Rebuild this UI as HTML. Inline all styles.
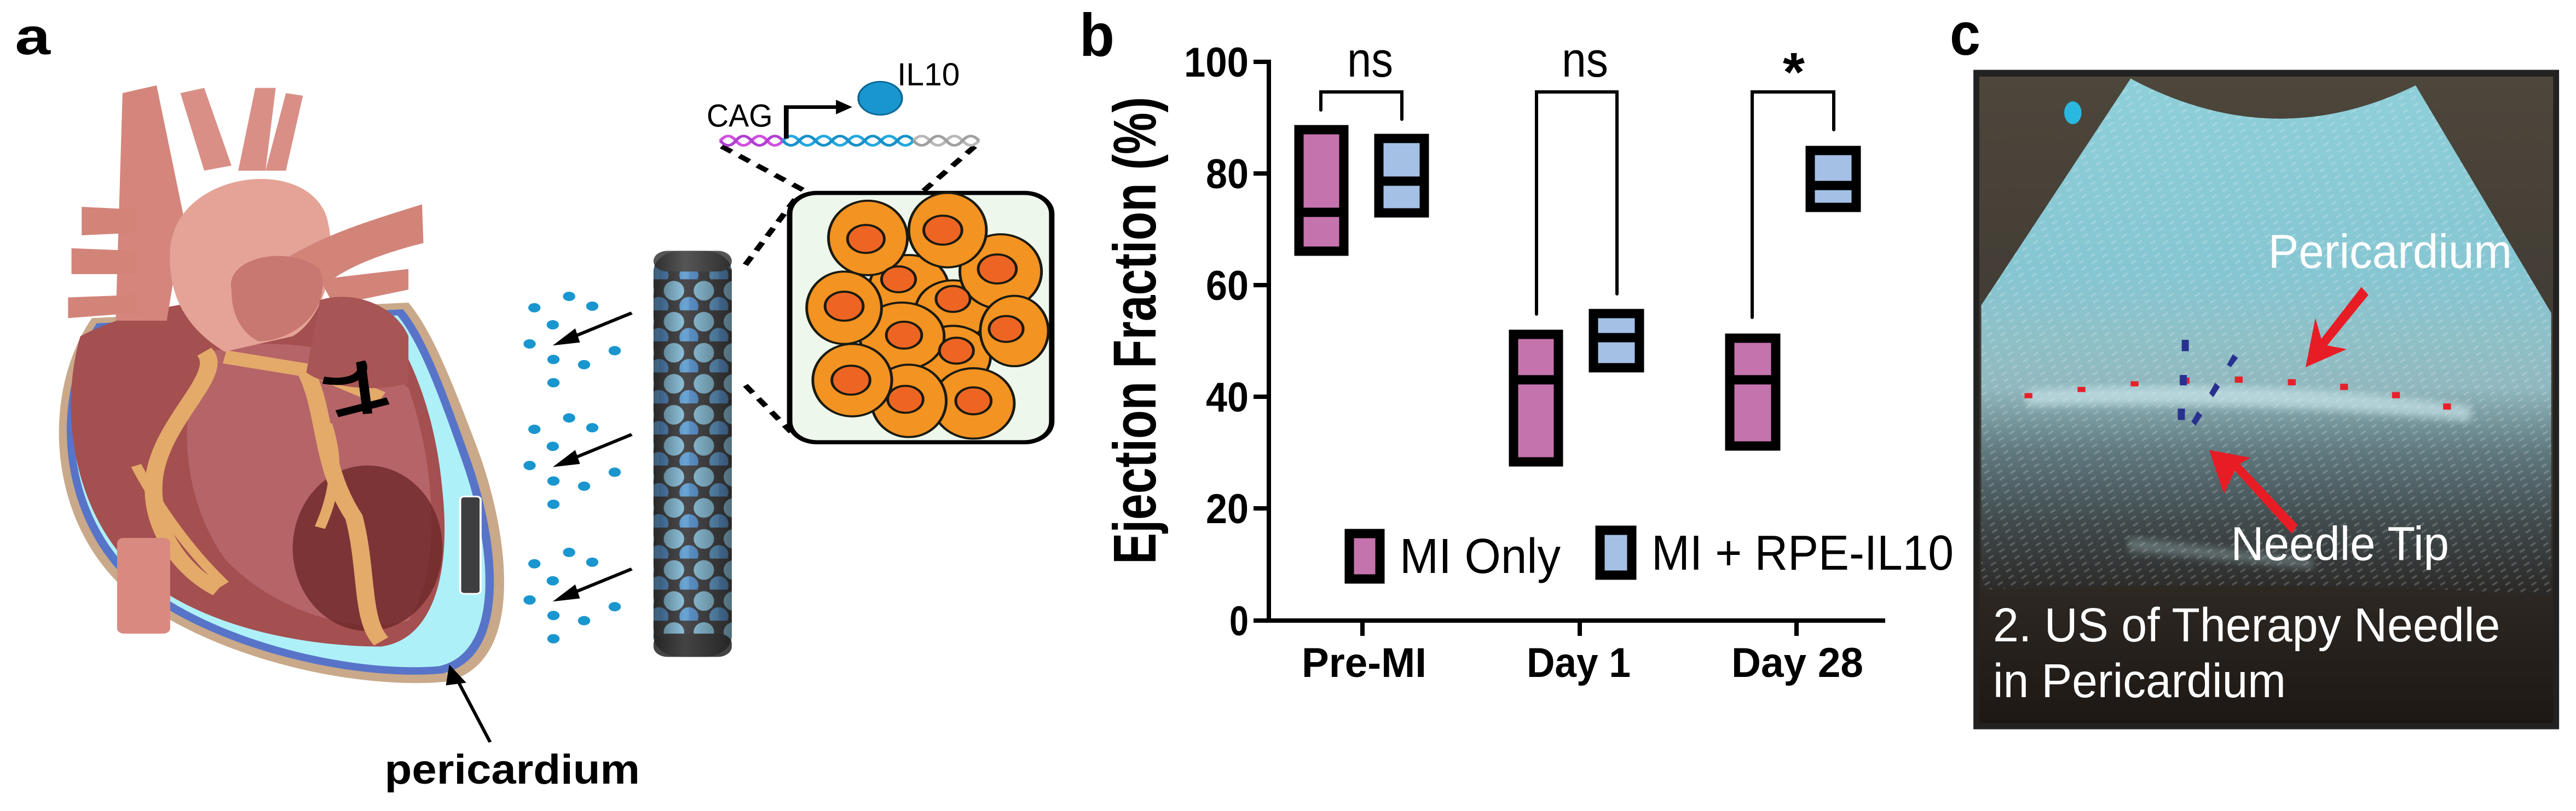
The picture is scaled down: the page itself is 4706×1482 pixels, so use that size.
<!DOCTYPE html>
<html><head><meta charset="utf-8"><style>
html,body{margin:0;padding:0;background:#fff;}
body{width:4706px;height:1482px;position:relative;overflow:hidden;font-family:"Liberation Sans",Arial,sans-serif;}
svg{position:absolute;}
</style></head><body>

<!-- Panel a -->
<svg style="left:0;top:0" width="1950" height="1482" viewBox="0 0 1568 1568" preserveAspectRatio="none">
<defs>
<pattern id="hex" width="44" height="60" patternUnits="userSpaceOnUse">
<rect width="44" height="60" fill="#4a4a4c"/>
<ellipse cx="22" cy="22" rx="15" ry="19" fill="#8fc3dc"/>
<ellipse cx="0" cy="52" rx="14" ry="18" fill="#5e95cc"/>
<ellipse cx="44" cy="52" rx="14" ry="18" fill="#6aa5d4"/>
</pattern>
<linearGradient id="cyl" x1="0" x2="1"><stop offset="0" stop-color="#000" stop-opacity=".45"/><stop offset=".4" stop-color="#000" stop-opacity="0"/><stop offset="1" stop-color="#000" stop-opacity=".45"/></linearGradient>
</defs>
<text x="22" y="105" font-size="100" font-weight="bold" textLength="52" lengthAdjust="spacingAndGlyphs">a</text>
<path d="M135,615 C60,760 70,1000 180,1135 C300,1270 520,1335 655,1318 C770,1285 750,1050 705,880 C665,740 635,640 600,585 Z" fill="#c9a98a"/>
<path d="M142,625 C72,765 84,995 190,1125 C305,1255 520,1318 650,1302 C752,1272 735,1050 690,885 C652,745 625,650 592,598 Z" fill="#5874c8"/>
<path d="M150,632 C84,770 96,990 200,1115 C312,1242 522,1302 645,1288 C738,1260 722,1050 678,888 C642,752 615,660 584,610 Z" fill="#aef0f8"/>
<path d="M118,650 C85,800 110,1000 205,1110 C300,1215 450,1250 560,1250 C640,1235 662,1100 650,950 C640,800 605,690 565,615 C450,560 250,560 118,650 Z" fill="#a44f50"/>
<path d="M310,680 C260,760 260,950 330,1080 C400,1180 520,1230 600,1200 C650,1100 640,900 600,750 C520,660 380,650 310,680 Z" fill="#b56468"/>
<ellipse cx="540" cy="1060" rx="110" ry="160" fill="#6a2426" opacity=".75"/>
<path d="M300,680 C330,720 250,800 230,900 C210,1000 260,1100 320,1140 M450,720 C480,800 470,900 520,1000 C540,1100 530,1200 560,1240 M330,690 L470,720 L560,770" stroke="#e3aa6a" stroke-width="26" fill="none" stroke-linejoin="round"/>
<path d="M200,900 C240,1000 290,1080 330,1130 M480,820 C500,900 490,960 470,1020" stroke="#e3aa6a" stroke-width="16" fill="none"/>
<rect x="172" y="1040" width="78" height="185" rx="10" fill="#d98a80"/>
<path d="M180,180 L230,165 L270,420 L245,620 L170,620 Z" fill="#d4857c"/>
<path d="M265,180 L300,170 L340,320 L300,330 Z" fill="#d98f86"/>
<path d="M375,170 L405,170 L390,330 L350,330 Z" fill="#d98f86"/>
<path d="M420,180 L445,185 L420,330 L390,330 Z" fill="#d98f86"/>
<path d="M250,480 C260,330 450,300 480,420 C500,520 470,620 430,650 L330,680 C280,640 245,580 250,480 Z" fill="#e4a396"/>
<path d="M120,400 L200,405 L200,450 L120,455 Z M105,480 L200,485 L200,530 L105,530 Z M100,575 L200,570 L200,605 L100,615 Z" fill="#d28479"/>
<path d="M420,500 C480,450 560,420 620,395 L622,470 C560,490 500,520 470,560 Z M470,540 L600,520 L600,560 L490,590 Z" fill="#d28479"/>
<path d="M340,560 C330,500 420,470 470,520 C490,600 430,660 380,660 C350,640 340,600 340,560 Z" fill="#c87870"/>
<path d="M470,580 C520,560 580,590 600,650 L600,740 C560,760 480,750 450,720 Z" fill="#a85555"/>
<path d="M475,735 C520,745 540,720 530,700 L540,800 M495,800 L570,775" stroke="#000" stroke-width="14" fill="none"/>
<rect x="676" y="960" width="30" height="188" rx="6" fill="#3e3e40" stroke="#fff" stroke-width="3"/>
<line x1="720" y1="1435" x2="670" y2="1310" stroke="#000" stroke-width="5"/>
<path d="M660,1285 L685,1320 L655,1325 Z" fill="#000"/>
<text x="565" y="1515" font-size="80" font-weight="bold" textLength="375" lengthAdjust="spacingAndGlyphs">pericardium</text>
<g fill="#1a96cf">
<circle cx="785" cy="595" r="9"/><circle cx="836" cy="573" r="9"/><circle cx="870" cy="592" r="9"/><circle cx="812" cy="628" r="9"/><circle cx="778" cy="665" r="9"/><circle cx="813" cy="695" r="9"/><circle cx="858" cy="705" r="9"/><circle cx="903" cy="678" r="9"/><circle cx="813" cy="740" r="9"/>
<circle cx="785" cy="830" r="9"/><circle cx="836" cy="808" r="9"/><circle cx="870" cy="827" r="9"/><circle cx="812" cy="863" r="9"/><circle cx="778" cy="900" r="9"/><circle cx="813" cy="930" r="9"/><circle cx="858" cy="940" r="9"/><circle cx="903" cy="913" r="9"/><circle cx="813" cy="975" r="9"/>
<circle cx="785" cy="1090" r="9"/><circle cx="836" cy="1068" r="9"/><circle cx="870" cy="1087" r="9"/><circle cx="812" cy="1123" r="9"/><circle cx="778" cy="1160" r="9"/><circle cx="813" cy="1190" r="9"/><circle cx="858" cy="1200" r="9"/><circle cx="903" cy="1173" r="9"/><circle cx="813" cy="1235" r="9"/>
</g>
<g stroke="#000" stroke-width="6"><line x1="928" y1="605" x2="835" y2="655"/><line x1="928" y1="840" x2="835" y2="890"/><line x1="928" y1="1100" x2="835" y2="1150"/></g>
<g fill="#000"><path d="M812,668 L845,635 L852,662 Z"/><path d="M812,903 L845,870 L852,897 Z"/><path d="M812,1163 L845,1130 L852,1157 Z"/></g>
<rect x="960" y="485" width="115" height="785" rx="40" fill="url(#hex)"/>
<rect x="960" y="485" width="115" height="40" rx="20" fill="#555"/>
<rect x="960" y="1225" width="115" height="45" rx="20" fill="#444"/>
<rect x="960" y="485" width="115" height="785" rx="40" fill="url(#cyl)"/>
<g stroke="#000" stroke-width="9" stroke-dasharray="18,14" fill="none">
<line x1="1060" y1="283" x2="1290" y2="445"/><line x1="1432" y1="283" x2="1290" y2="445"/>
<line x1="1095" y1="512" x2="1170" y2="382"/><line x1="1095" y1="745" x2="1162" y2="835"/>
</g>
<rect x="1160" y="373" width="385" height="482" rx="40" fill="#eef7ec" stroke="#000" stroke-width="8"/>
<g stroke="#1a1a10" stroke-width="4">
<g fill="#f39322">
<ellipse cx="1335" cy="555" rx="58" ry="62"/><ellipse cx="1400" cy="600" rx="55" ry="58"/><ellipse cx="1400" cy="690" rx="55" ry="60"/><ellipse cx="1325" cy="650" rx="62" ry="65"/>
<ellipse cx="1470" cy="525" rx="60" ry="72"/><ellipse cx="1490" cy="640" rx="50" ry="68"/><ellipse cx="1430" cy="780" rx="60" ry="68"/><ellipse cx="1335" cy="775" rx="55" ry="70"/>
<ellipse cx="1275" cy="460" rx="58" ry="72"/><ellipse cx="1392" cy="445" rx="57" ry="72"/><ellipse cx="1240" cy="595" rx="55" ry="70"/><ellipse cx="1252" cy="735" rx="58" ry="70"/>
</g>
<g fill="#ee6523">
<circle cx="1320" cy="540" r="25"/><circle cx="1400" cy="578" r="25"/><circle cx="1405" cy="678" r="25"/><circle cx="1328" cy="648" r="26"/>
<circle cx="1465" cy="520" r="28"/><circle cx="1478" cy="636" r="25"/><circle cx="1430" cy="775" r="26"/><circle cx="1330" cy="772" r="26"/>
<circle cx="1272" cy="462" r="27"/><circle cx="1385" cy="445" r="28"/><circle cx="1240" cy="592" r="28"/><circle cx="1250" cy="735" r="28"/>
</g></g>
<g fill="none" stroke-width="5">
<path d="M1058,272 q12,-18 23,0 t23,0 t23,0 t23,0" stroke="#d050e0"/><path d="M1058,272 q12,18 23,0 t23,0 t23,0 t23,0" stroke="#b040d0"/>
<path d="M1150,272 q12,-18 24,0 t24,0 t24,0 t24,0 t24,0 t24,0 t24,0 t24,0" stroke="#22a8e0"/><path d="M1150,272 q12,18 24,0 t24,0 t24,0 t24,0 t24,0 t24,0 t24,0 t24,0" stroke="#1890c8"/>
<path d="M1342,272 q12,-18 24,0 t24,0 t24,0 t24,0" stroke="#b8b8b8"/><path d="M1342,272 q12,18 24,0 t24,0 t24,0 t24,0" stroke="#a0a0a0"/>
</g>
<path d="M1155,268 V207 H1232" stroke="#000" stroke-width="7" fill="none"/>
<path d="M1228,193 L1252,207 L1228,221 Z" fill="#000"/>
<text x="1038" y="245" font-size="62" textLength="97" lengthAdjust="spacingAndGlyphs">CAG</text>
<circle cx="1293" cy="190" r="32" fill="#1a96cf" stroke="#0c6898" stroke-width="3"/>
<text x="1318" y="165" font-size="62" textLength="92" lengthAdjust="spacingAndGlyphs">IL10</text>
</svg>

<!-- Panel b -->
<svg style="left:0;top:0" width="4706" height="1482" viewBox="0 0 4706 1482">
<g font-family="Liberation Sans, Arial, sans-serif">
<text x="1972" y="102" font-size="110" font-weight="bold" textLength="64" lengthAdjust="spacingAndGlyphs">b</text>
<line x1="2318" y1="109" x2="2318" y2="1138" stroke="#000" stroke-width="8"/>
<line x1="2314" y1="1134" x2="3444" y2="1134" stroke="#000" stroke-width="8"/>
<g stroke="#000" stroke-width="8">
<line x1="2290" y1="113" x2="2318" y2="113"/><line x1="2290" y1="317" x2="2318" y2="317"/><line x1="2290" y1="521" x2="2318" y2="521"/><line x1="2290" y1="725" x2="2318" y2="725"/><line x1="2290" y1="929" x2="2318" y2="929"/><line x1="2290" y1="1134" x2="2318" y2="1134"/>
<line x1="2489" y1="1134" x2="2489" y2="1162"/><line x1="2886" y1="1134" x2="2886" y2="1162"/><line x1="3282" y1="1134" x2="3282" y2="1162"/>
</g>
<g font-size="76" font-weight="bold" text-anchor="end">
<text x="2281" y="140" textLength="118" lengthAdjust="spacingAndGlyphs">100</text>
<text x="2281" y="344" textLength="78" lengthAdjust="spacingAndGlyphs">80</text>
<text x="2281" y="548" textLength="78" lengthAdjust="spacingAndGlyphs">60</text>
<text x="2281" y="752" textLength="78" lengthAdjust="spacingAndGlyphs">40</text>
<text x="2281" y="956" textLength="78" lengthAdjust="spacingAndGlyphs">20</text>
<text x="2281" y="1161" textLength="35" lengthAdjust="spacingAndGlyphs">0</text>
</g>
<g font-size="76" font-weight="bold">
<text x="2378" y="1237" textLength="228" lengthAdjust="spacingAndGlyphs">Pre-MI</text>
<text x="2789" y="1237" textLength="190" lengthAdjust="spacingAndGlyphs">Day 1</text>
<text x="3163" y="1237" textLength="241" lengthAdjust="spacingAndGlyphs">Day 28</text>
</g>
<text transform="translate(2111,1031) rotate(-90)" font-size="110" font-weight="bold" textLength="854" lengthAdjust="spacingAndGlyphs">Ejection Fraction (%)</text>
<g stroke="#000" stroke-width="17">
<rect x="2373" y="237" width="82" height="222" fill="#c573ad"/>
<rect x="2519" y="253" width="83" height="136" fill="#a4c0e5"/>
<rect x="2765" y="611" width="82" height="233" fill="#c573ad"/>
<rect x="2911" y="573" width="84" height="99" fill="#a4c0e5"/>
<rect x="3160" y="618" width="84" height="197" fill="#c573ad"/>
<rect x="3307" y="275" width="84" height="104" fill="#a4c0e5"/>
<line x1="2373" y1="388" x2="2455" y2="388"/>
<line x1="2519" y1="331" x2="2602" y2="331"/>
<line x1="2765" y1="694" x2="2847" y2="694"/>
<line x1="2911" y1="617" x2="2995" y2="617"/>
<line x1="3160" y1="694" x2="3244" y2="694"/>
<line x1="3307" y1="339" x2="3391" y2="339"/>
</g>
<g stroke="#000" stroke-width="6" fill="none" stroke-linecap="round">
<path d="M2413,201 V168 H2561 V218"/>
<path d="M2807,574 V168 H2954 V537"/>
<path d="M3201,580 V168 H3350 V237"/>
</g>
<g font-size="90">
<text x="2461" y="140" textLength="84" lengthAdjust="spacingAndGlyphs">ns</text>
<text x="2853" y="140" textLength="85" lengthAdjust="spacingAndGlyphs">ns</text>
</g>
<text x="3257" y="166" font-size="100" font-weight="bold" textLength="40" lengthAdjust="spacingAndGlyphs">*</text>
<rect x="2465" y="975" width="56" height="83" fill="#c573ad" stroke="#000" stroke-width="17"/>
<rect x="2923" y="969" width="58" height="82" fill="#a4c0e5" stroke="#000" stroke-width="17"/>
<text x="2557" y="1047" font-size="90" textLength="294" lengthAdjust="spacingAndGlyphs">MI Only</text>
<text x="3017" y="1041" font-size="90" textLength="552" lengthAdjust="spacingAndGlyphs">MI + RPE-IL10</text>
<text x="3562" y="100" font-size="110" font-weight="bold" textLength="56" lengthAdjust="spacingAndGlyphs">c</text>
</g>
</svg>

<!-- Panel c -->
<svg style="left:3580px;top:0" width="1126" height="1482" viewBox="0 0 1568 1568" preserveAspectRatio="none">
<defs>
<linearGradient id="bg" x1="0" y1="0" x2="0" y2="1"><stop offset="0" stop-color="#4d463b"/><stop offset=".6" stop-color="#3a3630"/><stop offset="1" stop-color="#1e1814"/></linearGradient>
<linearGradient id="fan" x1="0" y1="0" x2="0" y2="1">
<stop offset="0" stop-color="#8fcfd9"/><stop offset=".38" stop-color="#86c6d2"/><stop offset=".5" stop-color="#8fc0c8"/><stop offset=".6" stop-color="#90b8be"/><stop offset=".72" stop-color="#607a80"/><stop offset=".86" stop-color="#404a4c"/><stop offset="1" stop-color="#2a2826"/></linearGradient>
<pattern id="tex" width="30" height="14" patternUnits="userSpaceOnUse" patternTransform="rotate(-25)"><rect width="14" height="4" fill="#fff" opacity=".18"/></pattern>
<filter id="bl"><feGaussianBlur stdDeviation="8"/></filter>
</defs>
<rect x="35" y="135" width="1490" height="1275" fill="#222"/>
<rect x="50" y="148" width="1460" height="1250" fill="url(#bg)"/>
<path d="M435,152 Q800,300 1160,165 L1505,605 L1505,1150 Q800,1120 55,1140 L55,590 Z" fill="url(#fan)"/>
<path d="M435,152 Q800,300 1160,165 L1505,605 L1505,1150 Q800,1120 55,1140 L55,590 Z" fill="url(#tex)"/>
<path d="M170,755 Q800,730 1300,785 L1300,815 Q800,775 170,785 Z" fill="#d8f2f6" opacity=".55" filter="url(#bl)"/>
<path d="M430,1040 Q650,1060 900,1080 L900,1100 Q650,1080 430,1065 Z" fill="#c8e8ee" opacity=".3" filter="url(#bl)"/>
<circle cx="288" cy="218" r="22" fill="#2ab8e0"/>
<g fill="#e8202a">
<rect x="165" y="760" width="20" height="10"/><rect x="300" y="748" width="20" height="10"/><rect x="435" y="737" width="20" height="10"/><rect x="565" y="730" width="20" height="12"/><rect x="700" y="728" width="20" height="12"/><rect x="835" y="733" width="20" height="12"/><rect x="968" y="742" width="20" height="12"/><rect x="1100" y="758" width="20" height="12"/><rect x="1230" y="780" width="20" height="12"/>
</g>
<g fill="#283090"><rect x="565" y="657" width="18" height="22"/><rect x="560" y="725" width="18" height="20"/><rect x="555" y="790" width="18" height="22"/><path d="M680,705 L695,685 L708,692 L690,710 Z"/><path d="M635,760 L650,740 L662,748 L645,768 Z"/><path d="M590,815 L605,795 L617,803 L600,823 Z"/></g>
<g fill="#e81c24">
<path d="M1022,555 L1040,570 L935,668 L985,675 L880,710 L905,615 L920,655 Z"/>
<path d="M860,1015 L845,1032 L700,910 L672,955 L635,870 L740,885 L713,897 Z"/>
</g>
<g fill="#fff" font-family="Liberation Sans, Arial, sans-serif" font-size="92">
<text x="785" y="518" textLength="620" lengthAdjust="spacingAndGlyphs">Pericardium</text>
<text x="690" y="1083" textLength="555" lengthAdjust="spacingAndGlyphs">Needle Tip</text>
<text x="85" y="1240" textLength="1290" lengthAdjust="spacingAndGlyphs">2. US of Therapy Needle</text>
<text x="85" y="1348" textLength="745" lengthAdjust="spacingAndGlyphs">in Pericardium</text>
</g>
</svg>
</body></html>
